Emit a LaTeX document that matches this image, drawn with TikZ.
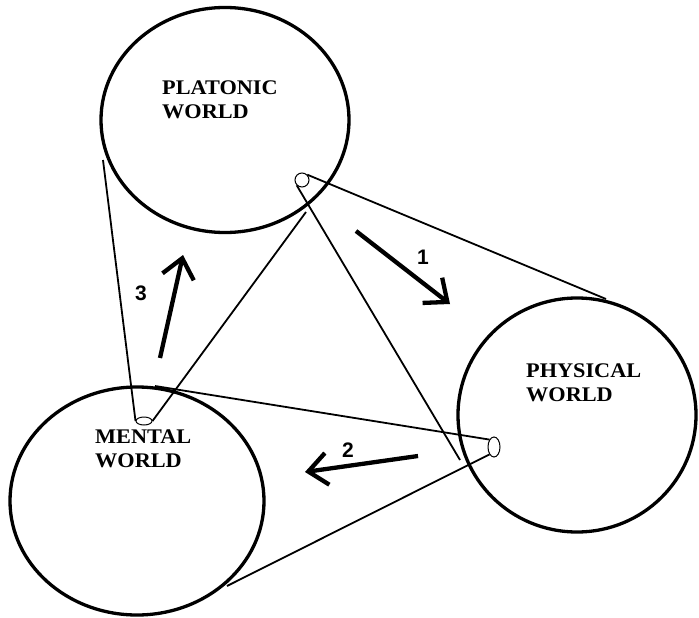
\documentclass[tikz,border=0pt]{standalone}
\usepackage{fontspec}
\setmainfont{Liberation Serif}
\newfontfamily\labelfont{Liberation Serif}[FakeStretch=1.07]
\newfontfamily\digitfont{Liberation Sans}
\usetikzlibrary{shapes.geometric,arrows.meta}
\tikzset{
  world/.style={draw, ellipse, line width=3.3pt, inner sep=0pt},
  apex/.style={draw, ellipse, line width=1pt, inner sep=0pt},
  cone/.style={line width=1.8pt},
  bigarrow/.style={line width=4.3pt, -{Straight Barb[length=19pt,width=32pt]}},
  worldlabel/.style={font=\labelfont\fontsize{20.8}{24}\selectfont\bfseries, align=left, anchor=north west, inner sep=0pt},
  numlabel/.style={font=\digitfont\fontsize{21}{21}\selectfont\bfseries, inner sep=0pt}
}
\begin{document}
\begin{tikzpicture}[x=1pt,y=-1pt]
\useasboundingbox (0,0) rectangle (699,618);
% worlds
\node[world, minimum width=248pt, minimum height=225pt] (plat) at (225,120) {};
\node[world, minimum width=238pt, minimum height=234pt] (phys) at (577,415) {};
\node[world, minimum width=254pt, minimum height=228pt] (ment) at (137,501) {};
% apices
\node[apex, minimum width=14pt, minimum height=14pt] (pa) at (302,180) {};
\node[apex, minimum width=12pt, minimum height=20pt] (ya) at (494,447) {};
\node[apex, minimum width=16pt, minimum height=8pt] (ma) at (144,421) {};
% cone end points
\coordinate (p1) at (606,299);
\coordinate (p2) at (460,460);
\coordinate (y1) at (155,386);
\coordinate (y2) at (227,586);
\coordinate (m1) at (103,160);
\coordinate (m2) at (306,212);
% cones
\draw[cone] (pa.north east) -- (p1);
\draw[cone] (pa.south west) -- (p2);
\draw[cone] (ya.north west) -- (y1);
\draw[cone] (ya.south west) -- (y2);
\draw[cone] (ma.west) -- (m1);
\draw[cone] (ma.east) -- (m2);
% labels
\node[worldlabel] (tplat) at (162,81) {PLATONIC\\WORLD};
\node[worldlabel] (tphys) at (526,364) {PHYSICAL\\WORLD};
\node[worldlabel] (tment) at (95,430) {MENTAL\\WORLD};
% arrows
\coordinate (a1s) at (356,231);
\coordinate (a1e) at (450,304);
\coordinate (a2s) at (418,456);
\coordinate (a2e) at (305,472);
\coordinate (a3s) at (160,358);
\coordinate (a3e) at (183,255);
\draw[bigarrow] (a1s) -- (a1e);
\draw[bigarrow] (a2s) -- (a2e);
\draw[bigarrow] (a3s) -- (a3e);
\node[numlabel] (n1) at (423,257) {1};
\node[numlabel] (n2) at (348,450) {2};
\node[numlabel] (n3) at (141,293) {3};
\end{tikzpicture}
\end{document}
